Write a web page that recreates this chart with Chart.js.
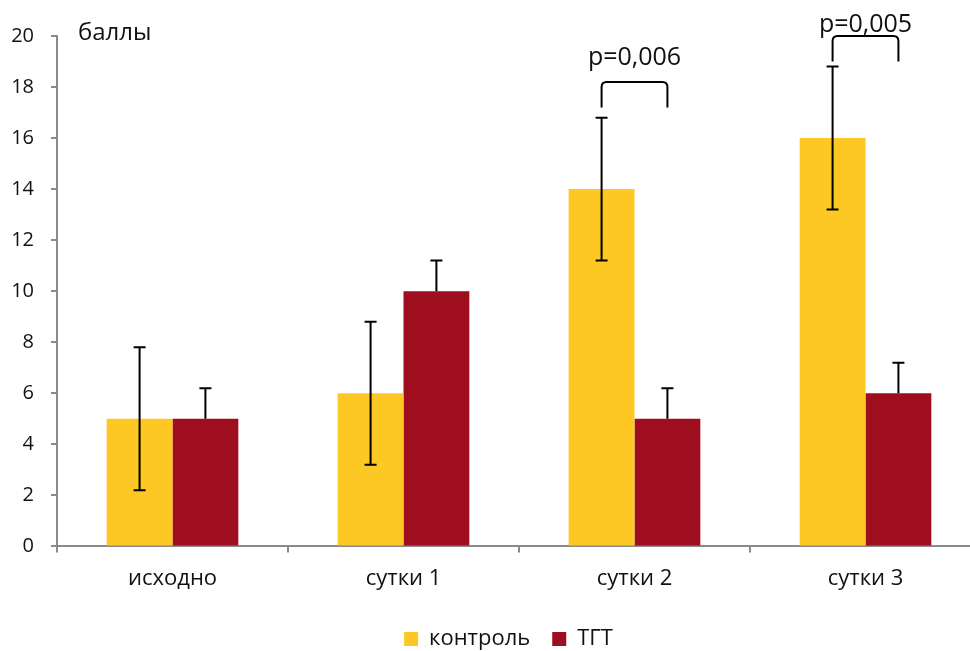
<!DOCTYPE html>
<html lang="ru">
<head>
<meta charset="utf-8">
<title>баллы</title>
<script src="https://cdn.jsdelivr.net/npm/chart.js@4"></script>
<style>
  html, body { margin: 0; padding: 0; background: #fff; }
  .grafico { width: 970px; height: 651px; overflow: hidden; position: relative; }
  #myChart { position: absolute; left: 0; top: 0; }
</style>
</head>
<body>
<div class="grafico"><canvas id="myChart" width="985" height="651"></canvas></div>
<script>
const categories = ["исходно", "сутки 1", "сутки 2", "сутки 3"];
const controlValues = [5, 6, 14, 16];
const controlErrUp = [2.8, 2.8, 2.8, 2.8];
const controlErrDown = [2.8, 2.8, 2.8, 2.8];
const tgtValues = [5, 10, 5, 6];
const tgtErrUp = [1.2, 1.2, 1.2, 1.2];
const tgtErrDown = [0, 0, 0, 0];
const yTicks = [0, 2, 4, 6, 8, 10, 12, 14, 16, 18, 20];

// p-value brackets (in axis units)
const pLabels = ["p=0,006", "p=0,005"];
const pCategory = [2, 3];
const pLow = [17.2, 19.0];
const pHigh = [18.2, 20.0];
const pTextLevel = [19.15, 20.45];

const FONT = "'Open Sans', sans-serif";
const AXIS_COLOR = "#8a8a8a";

const errorBarsPlugin = {
  id: "errorBars",
  afterDatasetsDraw(chart) {
    const { ctx } = chart;
    const yScale = chart.scales.y;
    chart.data.datasets.forEach((ds, i) => {
      const meta = chart.getDatasetMeta(i);
      meta.data.forEach((bar, j) => {
        const top = yScale.getPixelForValue(ds.data[j] + ds.errUp[j]);
        const bottom = yScale.getPixelForValue(ds.data[j] - ds.errDown[j]);
        ctx.save();
        ctx.strokeStyle = "#000";
        ctx.lineWidth = 2;
        ctx.beginPath();
        ctx.moveTo(bar.x, top);
        ctx.lineTo(bar.x, bottom);
        ctx.moveTo(bar.x - 6, top);
        ctx.lineTo(bar.x + 6, top);
        if (ds.errDown[j] > 0) {
          ctx.moveTo(bar.x - 6, bottom);
          ctx.lineTo(bar.x + 6, bottom);
        }
        ctx.stroke();
        ctx.restore();
      });
    });
  },
};

const annotationsPlugin = {
  id: "annotations",
  afterLayout(chart) {
    // legend sits a bit right of the canvas centre, like the original
    chart.legend.left += 18;
    chart.legend.right += 18;
  },
  afterDraw(chart) {
    const { ctx, chartArea } = chart;
    const yScale = chart.scales.y;
    const meta0 = chart.getDatasetMeta(0);
    const meta1 = chart.getDatasetMeta(1);

    ctx.save();
    ctx.fillStyle = "#111";
    ctx.font = `24px ${FONT}`;
    ctx.textAlign = "left";
    ctx.textBaseline = "middle";
    ctx.fillText("баллы", chartArea.left + 21, chartArea.top - 3);

    pLabels.forEach((label, k) => {
      const x1 = meta0.data[pCategory[k]].x;
      const x2 = meta1.data[pCategory[k]].x;
      const yLow = yScale.getPixelForValue(pLow[k]);
      const yHigh = yScale.getPixelForValue(pHigh[k]);
      const r = 5;
      ctx.strokeStyle = "#000";
      ctx.lineWidth = 2;
      ctx.beginPath();
      ctx.moveTo(x1, yLow);
      ctx.lineTo(x1, yHigh + r);
      ctx.quadraticCurveTo(x1, yHigh, x1 + r, yHigh);
      ctx.lineTo(x2 - r, yHigh);
      ctx.quadraticCurveTo(x2, yHigh, x2, yHigh + r);
      ctx.lineTo(x2, yLow);
      ctx.stroke();

      ctx.textAlign = "center";
      ctx.font = `25px ${FONT}`;
      ctx.fillText(label, (x1 + x2) / 2, yScale.getPixelForValue(pTextLevel[k]));
    });
    ctx.restore();
  },
};

const config = {
  type: "bar",
  data: {
    labels: categories,
    datasets: [
      {
        label: "контроль",
        data: controlValues,
        errUp: controlErrUp,
        errDown: controlErrDown,
        backgroundColor: "#fec824",
        borderWidth: 0,
      },
      {
        label: "ТГТ",
        data: tgtValues,
        errUp: tgtErrUp,
        errDown: tgtErrDown,
        backgroundColor: "#9e0e1e",
        borderWidth: 0,
      },
    ],
  },
  options: {
    responsive: false,
    animation: false,
    categoryPercentage: 0.57,
    barPercentage: 1,
    layout: {
      padding: { top: 36, left: 0, right: 4, bottom: -9 },
    },
    plugins: {
      tooltip: { enabled: false },
      legend: {
        position: "bottom",
        labels: {
          boxWidth: 14,
          boxHeight: 14,
          padding: 22,
          color: "#111",
          font: { family: FONT, size: 22 },
        },
      },
    },
    scales: {
      x: {
        border: { color: AXIS_COLOR, width: 2 },
        grid: {
          display: true,
          drawOnChartArea: false,
          drawTicks: true,
          tickLength: 6,
          color: AXIS_COLOR,
          lineWidth: 2,
        },
        ticks: {
          color: "#111",
          padding: 7,
          font: { family: FONT, size: 22, lineHeight: 1.8 },
        },
      },
      y: {
        min: 0,
        max: 20,
        afterFit(scale) {
          scale.width = 57;
        },
        afterBuildTicks(scale) {
          scale.ticks = yTicks.map((v) => ({ value: v }));
        },
        border: { color: AXIS_COLOR, width: 2 },
        grid: {
          display: true,
          drawOnChartArea: false,
          drawTicks: true,
          tickLength: 6,
          color: AXIS_COLOR,
          lineWidth: 2,
        },
        ticks: {
          color: "#111",
          padding: 17,
          font: { family: FONT, size: 20 },
        },
      },
    },
  },
  plugins: [errorBarsPlugin, annotationsPlugin],
};

const myChart = new Chart(document.getElementById("myChart"), config);
</script>
</body>
</html>
